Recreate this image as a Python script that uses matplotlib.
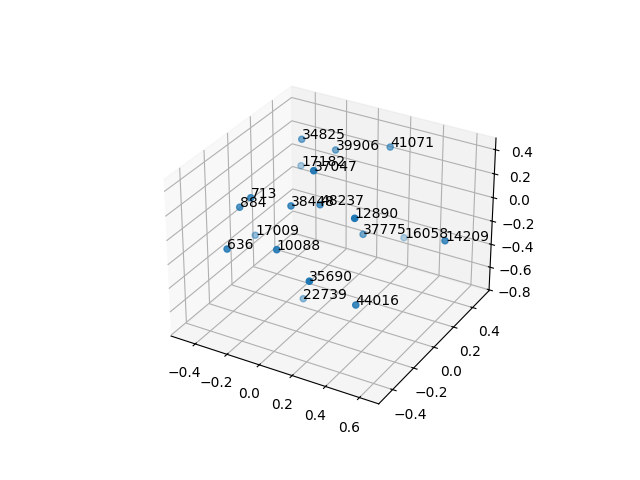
import matplotlib
matplotlib.use('Agg')
import matplotlib.pyplot as plt

labels = ['34825', '39906', '41071', '17182', '37047', '713', '884', '38448', '48237', '12890',
          '37775', '16058', '14209', '17009', '10088', '636', '35690', '22739', '44016']
x = [-0.242, -0.07, 0.18, -0.374, 0.066, -0.272, -0.342, -0.079, 0.022, 0.336,
     0.171, 0.191, 0.665, -0.429, -0.027, -0.281, 0.216, -0.114, 0.372]
y = [0.217, 0.275, 0.409, 0.4, -0.129, -0.197, -0.198, -0.121, -0.008, -0.171,
     0.168, 0.549, 0.163, 0.049, -0.324, -0.394, -0.394, 0.032, -0.212]
z = [0.402, 0.333, 0.352, 0.001, 0.503, 0.208, 0.104, 0.157, 0.12, 0.254,
     -0.206, -0.526, -0.06, -0.358, -0.025, -0.066, -0.128, -0.771, -0.412]

fig = plt.figure()
ax = fig.add_subplot(projection='3d')
ax.scatter(x, y, z)
for i in range(len(labels)):
    ax.text(x[i], y[i], z[i], labels[i])

# limits measured from the tick positions of the reference
ax.set_xlim(-0.554, 0.712, view_margin=0)
ax.set_ylim(-0.529, 0.578, view_margin=0)
ax.set_zlim(-0.808, 0.496, view_margin=0)

fig.savefig('out.png', dpi=100)
